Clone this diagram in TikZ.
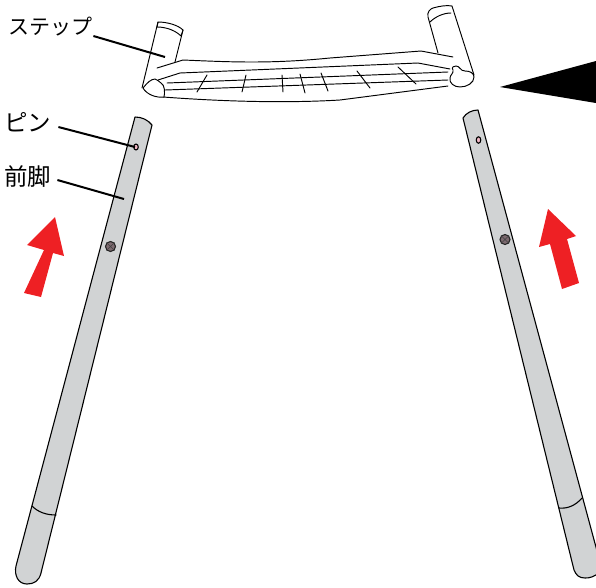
\documentclass[tikz,border=0pt]{standalone}
\usepackage{fontspec}
\usetikzlibrary{shapes.geometric}
\setmainfont{Noto Sans CJK JP}
\definecolor{legfill}{HTML}{D1D3D4}
\definecolor{arrowred}{HTML}{EE2024}
\definecolor{pinfill}{HTML}{F2B8C6}
\definecolor{screwfill}{HTML}{7D6A70}
\tikzset{
 ln/.style={draw=black,line width=1.1pt,line join=round,line cap=round},
 thin ln/.style={draw=black,line width=0.95pt,line join=round,line cap=round},
 leg/.style={ln,fill=legfill},
 redarrow/.style={fill=arrowred,draw=none},
 leader/.style={draw=black,line width=2pt},
 lbl/.style={inner sep=1pt,text=black},
 big lbl/.style={lbl,font=\fontsize{23.5}{24}\selectfont},
 small lbl/.style={lbl,font=\fontsize{21}{21}\selectfont},
 pin/.style={draw=black,line width=1.1pt,fill=pinfill},
 screw/.style={draw=black!85,line width=1.1pt,fill=screwfill},
 screwmark/.style={draw=black!75,line width=0.5pt},
}
\begin{document}
\begin{tikzpicture}[x=1pt,y=-1pt]
\useasboundingbox (0,0) rectangle (596,587);
% left leg
\draw[leg] (135,117) .. controls (142,117) and (148,120) .. (152,125)
 -- (41,573) .. controls (39,581) and (34,584) .. (27,584)
 .. controls (18,584) and (14,575) .. (16,566) -- cycle;
\draw[ln] (32,506) .. controls (38,512) and (46,515) .. (56,515);
% right leg
\begin{scope}
\clip (440,100) rectangle (596,587);
\draw[leg] (463,118) .. controls (466,113) and (472,110) .. (478,110)
 -- (600,562) -- (600,572) .. controls (594,577) and (590,578) .. (585,578)
 .. controls (579,578) and (576,575) .. (574,570) -- cycle;
\draw[ln] (559,508) .. controls (568,509) and (576,505) .. (582,498);
\end{scope}
% pins and screws
\node[pin,ellipse,minimum width=4.5pt,minimum height=6pt,inner sep=0pt] (pinL) at (136,147) {};
\node[pin,ellipse,minimum width=4.5pt,minimum height=6.5pt,inner sep=0pt] (pinR) at (478.5,140) {};
\node[screw,circle,minimum size=10pt,inner sep=0pt] (screwL) at (110.5,246.5) {};
\node[screw,circle,minimum size=10pt,inner sep=0pt] (screwR) at (505,239.5) {};
\draw[screwmark] (screwL.north west) -- (screwL.south east) (screwL.north east) -- (screwL.south west);
\draw[screwmark] (screwR.north west) -- (screwR.south east) (screwR.north east) -- (screwR.south west);
% arrows
\fill[redarrow] (55,217) -- (27,245) -- (44,250) -- (24,293) -- (41,297) -- (53,253) -- (64,256) -- cycle;
\fill[redarrow] (548,209) -- (539,247) -- (550,244) -- (562,289) -- (579,283) -- (567,239) -- (576,236) -- cycle;
\fill[black] (500,87) -- (596,61) -- (596,103) -- cycle;
% step: tubes
\draw[thin ln] (142,88) -- (158,22) .. controls (167,22) and (178,25) .. (183,30) -- (175,62);
\draw[thin ln] (158,22) -- (157,27) .. controls (167,27) and (176,31) .. (181,36) -- (183,30);
\draw[thin ln] (438,53) -- (428,17) .. controls (427,12) and (430,9) .. (433,8)
  .. controls (440,6) and (447,5) .. (452,6) -- (474,75);
\draw[thin ln] (430,22) .. controls (435,17) and (443,13) .. (451,13);
% step: body
\draw[thin ln] (157,68) -- (183,60) .. controls (230,62) and (270,64) .. (330,58) -- (421,51) -- (453,57);
\draw[thin ln] (158,80) -- (180,73) -- (418,63) -- (450,69);
\draw[thin ln] (167,83) -- (448,72);
\draw[thin ln] (165,90) -- (448,80);
\draw[thin ln] (163,97) .. controls (230,102) and (290,103) .. (340,100) -- (448,86);
\draw[thin ln] (207,75) -- (197,92);
\draw[thin ln] (246,75) -- (242,92);
\draw[thin ln] (282,75) -- (283,92);
\draw[thin ln] (300,74) -- (305,93);
\draw[thin ln] (321,73) -- (328,91);
\draw[thin ln] (357,71) -- (370,88);
\draw[thin ln] (398,67) -- (416,84);
% knobs
\draw[thin ln,fill=white] (143,88) .. controls (147,83) and (151,79) .. (155,79)
 .. controls (158,79) and (158,82) .. (161,83) .. controls (165,85) and (165,93) .. (164,97)
 .. controls (157,98) and (147,95) .. (143,88) -- cycle;
\draw[thin ln,fill=white] (453,70) .. controls (451,67) and (454,66) .. (456,66)
 .. controls (460,66) and (460,71) .. (465,71) .. controls (470,71) and (474,73) .. (474,77)
 .. controls (474,83) and (467,87) .. (460,87) .. controls (454,87) and (449,83) .. (450,78)
 .. controls (450,75) and (454,73) .. (453,70) -- cycle;
% labels
\node[small lbl,anchor=west] (step) at (7,27) {ステップ};
\node[big lbl,anchor=west] (pinlabel) at (3,122) {ピン};
\node[big lbl,anchor=west] (leglabel) at (3,177) {前脚};
\coordinate (stepEnd) at (165,57);
\coordinate (pinEnd) at (135,147);
\coordinate (legEnd) at (124,199);
\draw[leader] (step.east) ++(0,9) -- (stepEnd);
\draw[leader] (pinlabel.east) ++(6,5) -- (pinEnd);
\draw[leader] (leglabel.east) ++(5,3) -- (legEnd);
\end{tikzpicture}
\end{document}
